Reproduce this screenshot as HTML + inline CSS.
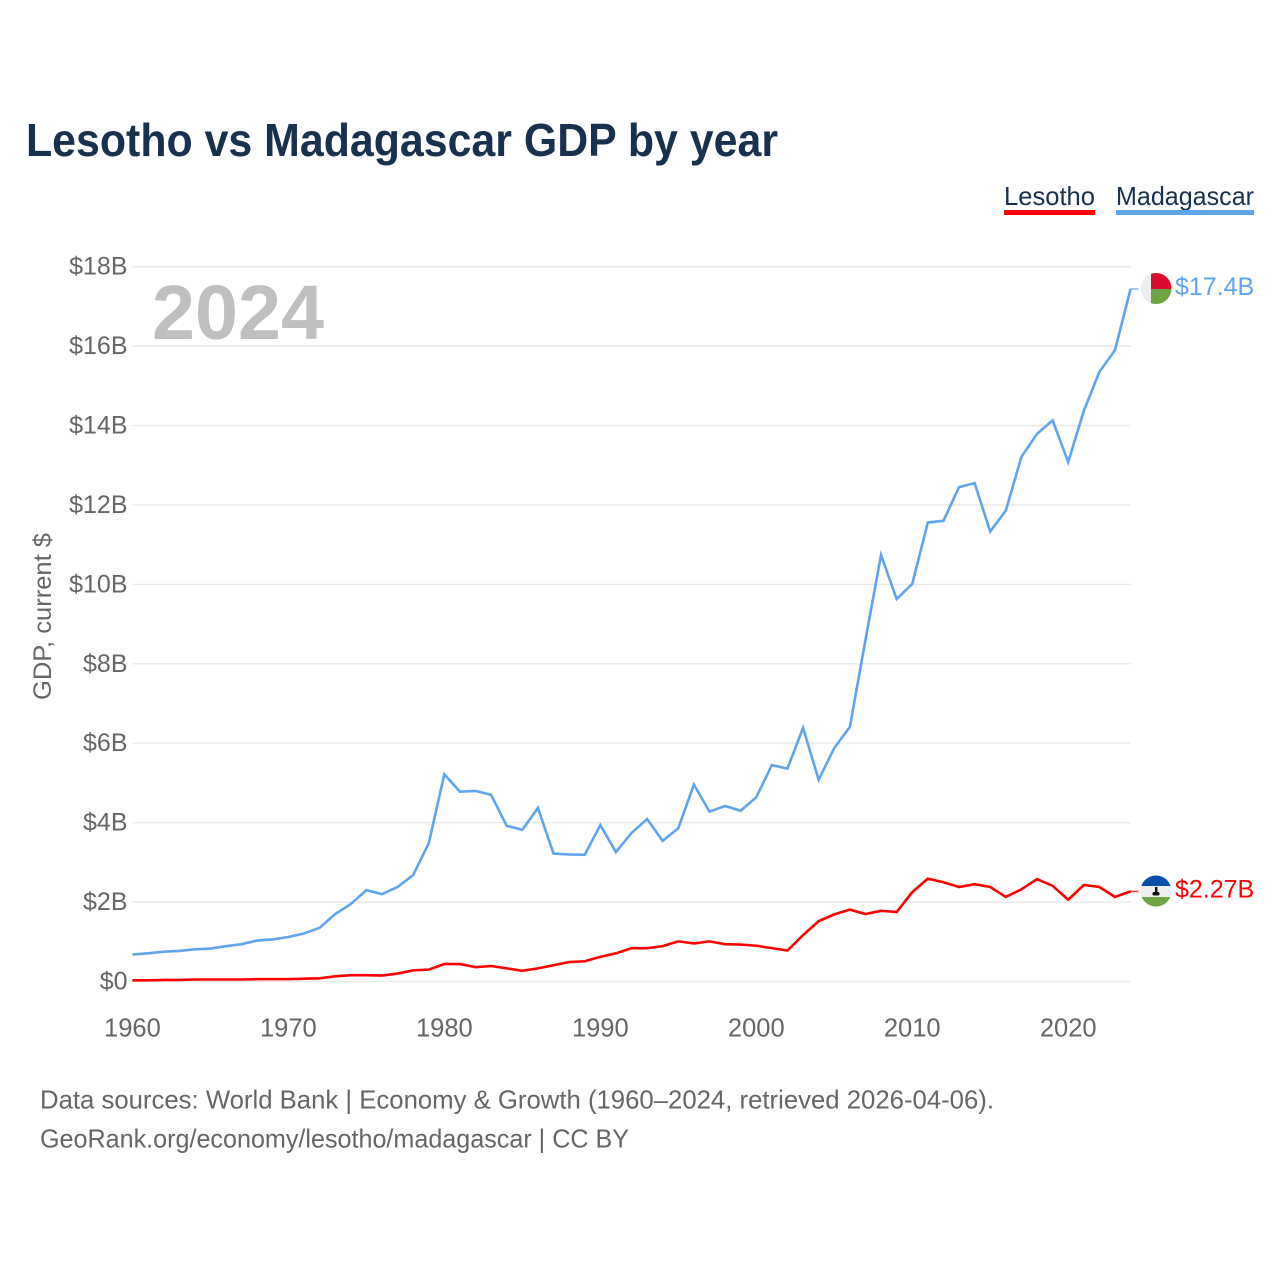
<!DOCTYPE html>
<html lang="en">
<head>
<meta charset="utf-8">
<title>Lesotho vs Madagascar GDP by year</title>
<style>
html,body{margin:0;padding:0;background:#fff}
svg{display:block}
text{font-family:"Liberation Sans",sans-serif}
</style>
</head>
<body>
<svg id="chart" xmlns="http://www.w3.org/2000/svg" width="1280" height="1280" viewBox="0 0 1280 1280">
  <rect x="0" y="0" width="1280" height="1280" fill="#fff"/>
  <text x="26" y="156" font-size="46" font-weight="700" fill="#18314f" textLength="752" lengthAdjust="spacingAndGlyphs">Lesotho vs Madagascar GDP by year</text>

  <g>
    <text x="1004" y="205" font-size="26" fill="#18314f" textLength="91" lengthAdjust="spacingAndGlyphs">Lesotho</text>
    <rect x="1004" y="210" width="91" height="5" fill="#ff0000"/>
  </g>
  <g>
    <text x="1116" y="205" font-size="26" fill="#18314f" textLength="138" lengthAdjust="spacingAndGlyphs">Madagascar</text>
    <rect x="1116" y="210" width="138" height="5" fill="#5fa5ee"/>
  </g>

  <text transform="translate(51,700) rotate(-90)" x="0" y="0" font-size="25" fill="#666" textLength="167" lengthAdjust="spacingAndGlyphs">GDP, current $</text>

  <g id="grid"></g>
  <g id="yticks"></g>
  <g id="xticks"></g>

  <text x="152" y="339" font-size="77" font-weight="700" fill="#c0c0c0" textLength="172" lengthAdjust="spacingAndGlyphs">2024</text>

  <g id="series"></g>

  <g>
    <clipPath id="clip-mg"><circle cx="1156" cy="288.5" r="15.5"/></clipPath>
    <g clip-path="url(#clip-mg)">
      <rect x="1140" y="272" width="11" height="33" fill="#eeeeee"/>
      <rect x="1151" y="272" width="21" height="17" fill="#dc0a2c"/>
      <rect x="1151" y="289" width="21" height="16" fill="#6da544"/>
    </g>
  </g>
  <g>
    <clipPath id="clip-ls"><circle cx="1156" cy="891" r="15.5"/></clipPath>
    <g clip-path="url(#clip-ls)">
      <rect x="1140" y="875" width="32" height="11" fill="#0a50a8"/>
      <rect x="1140" y="886" width="32" height="11" fill="#eeeeee"/>
      <rect x="1140" y="897" width="32" height="11" fill="#6da544"/>
      <rect x="1155" y="887" width="2.4" height="6" fill="#111"/>
      <rect x="1152.500" y="892" width="7" height="3.500" rx="1.500" fill="#111"/>
    </g>
  </g>

  <text x="1175" y="295" font-size="25" fill="#5fa5ee">$17.4B</text>
  <text x="1175" y="897.5" font-size="25" fill="#ff0000">$2.27B</text>

  <text x="40" y="1108.500" font-size="26" fill="#666" textLength="954" lengthAdjust="spacingAndGlyphs">Data sources: World Bank | Economy &amp; Growth (1960–2024, retrieved 2026-04-06).</text>
  <text x="40" y="1147.500" font-size="26" fill="#666" textLength="589" lengthAdjust="spacingAndGlyphs">GeoRank.org/economy/lesotho/madagascar | CC BY</text>
</svg>
<script>
const startYear = 1960;
const endYear = 2024;
const yTicks = [0, 2, 4, 6, 8, 10, 12, 14, 16, 18];
const yTickLabels = ["$0", "$2B", "$4B", "$6B", "$8B", "$10B", "$12B", "$14B", "$16B", "$18B"];
const xTicks = [1960, 1970, 1980, 1990, 2000, 2010, 2020];
const xTickLabels = ["1960", "1970", "1980", "1990", "2000", "2010", "2020"];
const lesothoValues = [
  0.03, 0.03, 0.04, 0.04, 0.05, 0.05, 0.05, 0.05, 0.06, 0.06,
  0.06, 0.07, 0.08, 0.13, 0.16, 0.16, 0.15, 0.20, 0.28, 0.30,
  0.44, 0.44, 0.36, 0.39, 0.33, 0.27, 0.33, 0.41, 0.49, 0.51,
  0.62, 0.71, 0.84, 0.84, 0.89, 1.01, 0.96, 1.01, 0.94, 0.93,
  0.90, 0.84, 0.78, 1.17, 1.52, 1.69, 1.81, 1.70, 1.78, 1.75,
  2.25, 2.59, 2.50, 2.38, 2.45, 2.38, 2.13, 2.32, 2.58, 2.41,
  2.06, 2.43, 2.38, 2.13, 2.27
];
const madagascarValues = [
  0.68, 0.71, 0.75, 0.77, 0.81, 0.83, 0.89, 0.94, 1.03, 1.06,
  1.12, 1.21, 1.35, 1.70, 1.95, 2.30, 2.20, 2.38, 2.68, 3.48,
  5.22, 4.78, 4.80, 4.70, 3.92, 3.82, 4.37, 3.22, 3.20, 3.19,
  3.94, 3.26, 3.74, 4.09, 3.54, 3.86, 4.96, 4.28, 4.42, 4.30,
  4.64, 5.45, 5.36, 6.39, 5.08, 5.88, 6.41, 8.60, 10.74, 9.63,
  10.01, 11.56, 11.60, 12.45, 12.55, 11.33, 11.86, 13.21, 13.79, 14.13,
  13.08, 14.37, 15.35, 15.90, 17.44
];

const SVG_NS = "http://www.w3.org/2000/svg";
const plot = { left: 132.4, right: 1130.6, zero: 981.5, top: 266.7, maxVal: 18 };
function xScale(year) {
  return plot.left + (year - startYear) * (plot.right - plot.left) / (endYear - startYear);
}
function yScale(val) {
  return plot.zero - val * (plot.zero - plot.top) / plot.maxVal;
}

const gridGroup = document.getElementById("grid");
const yTickGroup = document.getElementById("yticks");
const xTickGroup = document.getElementById("xticks");
const seriesGroup = document.getElementById("series");

yTicks.forEach(function (t, i) {
  const line = document.createElementNS(SVG_NS, "line");
  
  
  line.setAttribute("x1", plot.left);
  line.setAttribute("x2", plot.right);
  line.setAttribute("y1", yScale(t));
  line.setAttribute("y2", yScale(t));
  line.setAttribute("stroke", "#e9e9e9");
  line.setAttribute("stroke-width", "1.4");
  gridGroup.appendChild(line);

  const label = document.createElementNS(SVG_NS, "text");
  
  
  label.setAttribute("x", 127.500);
  label.setAttribute("y", yScale(t) + 8);
  label.setAttribute("text-anchor", "end");
  label.setAttribute("font-size", "25");
  label.setAttribute("fill", "#666");
  label.textContent = yTickLabels[i];
  yTickGroup.appendChild(label);
});

xTicks.forEach(function (t, i) {
  const label = document.createElementNS(SVG_NS, "text");
  
  
  label.setAttribute("x", xScale(t));
  label.setAttribute("y", 1036.500);
  label.setAttribute("text-anchor", "middle");
  label.setAttribute("font-size", "25.500");
  label.setAttribute("fill", "#666");
  label.textContent = xTickLabels[i];
  xTickGroup.appendChild(label);
});

function drawSeries(values, color, name) {
  const points = values.map(function (v, i) {
    return xScale(startYear + i).toFixed(2) + "," + yScale(v).toFixed(2);
  }).join(" ");
  const poly = document.createElementNS(SVG_NS, "polyline");
  
  
  poly.setAttribute("points", points);
  poly.setAttribute("fill", "none");
  poly.setAttribute("stroke", color);
  poly.setAttribute("stroke-width", "2.6");
  poly.setAttribute("stroke-linejoin", "miter");
  seriesGroup.appendChild(poly);

  const lastY = yScale(values[values.length - 1]);
  const stub = document.createElementNS(SVG_NS, "line");
  
  
  stub.setAttribute("x1", plot.right);
  stub.setAttribute("x2", plot.right + 8);
  stub.setAttribute("y1", lastY);
  stub.setAttribute("y2", lastY);
  stub.setAttribute("stroke", color);
  stub.setAttribute("stroke-width", "1.6");
  stub.setAttribute("opacity", "0.7");
  seriesGroup.appendChild(stub);
}
drawSeries(madagascarValues, "#5fa5ee", "series-madagascar");
drawSeries(lesothoValues, "#ff0000", "series-lesotho");
</script>
</body>
</html>
